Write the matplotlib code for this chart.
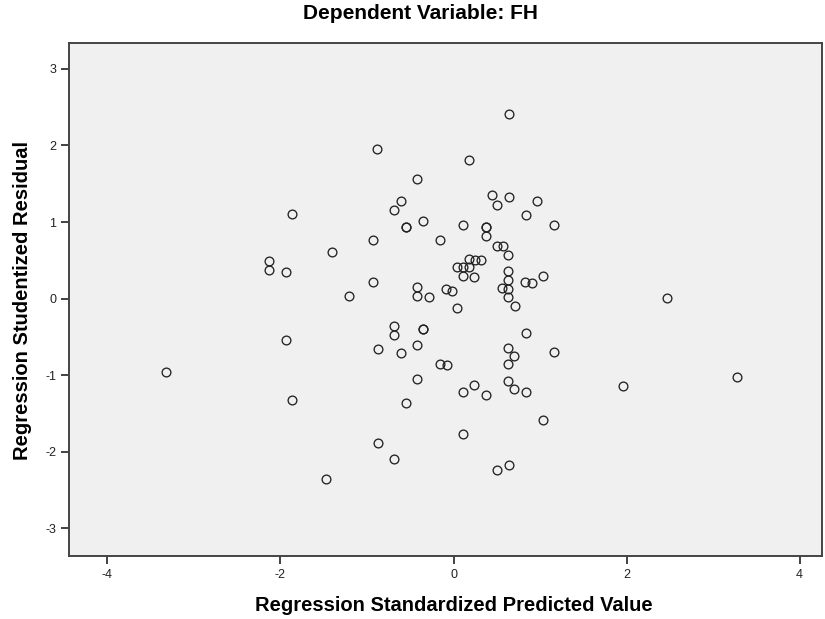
import numpy as np
import matplotlib.pyplot as plt

plt.rcParams['font.family'] = ['Liberation Sans', 'DejaVu Sans']

# standardized predicted values (x) and studentized residuals (y)
pred = [-3.324, -2.129, -2.129, -1.936, -1.871, -1.936, -1.871, -1.474, -1.408, -1.208,
        -0.934, -0.934, -0.881, -0.873, -0.873, -0.684, -0.610, -0.553, -0.548, -0.418,
        -0.356, -0.418, -0.418, -0.283, -0.156, -0.090, -0.021, 0.044, 0.113, 0.183,
        0.179, 0.245, 0.314, 0.106, 0.240, 0.113, 0.176, 0.044, 0.376, 0.371,
        0.376, 0.442, 0.506, 0.642, 0.642, 0.969, 0.835, 1.162, 0.506, 0.576,
        0.634, 0.634, 0.634, 0.561, 0.634, 0.634, 0.708, 0.827, 0.904, 1.031,
        2.465, -0.684, -0.684, -0.356, -0.352, -0.610, -0.418, -0.156, -0.079, -0.418,
        -0.549, 0.106, 0.240, 0.376, 0.634, 0.703, 0.634, 0.634, 0.703, 0.838,
        0.838, 1.165, 1.031, 0.106, -0.684, 0.506, 0.638, 1.956, 3.281]
resid = [-0.959, 0.491, 0.374, 0.344, 1.109, -0.541, -1.321, -2.353, 0.605, 0.030,
         0.762, 0.213, 1.950, -0.665, -1.893, 1.157, 1.275, 0.935, 0.940, 1.558,
         1.014, 0.155, 0.038, 0.025, 0.766, 0.121, 0.099, 0.417, 0.413, 0.406,
         0.511, 0.504, 0.504, 0.295, 0.282, 0.961, 1.815, -0.119, 0.931, 0.936,
         0.818, 1.349, 1.223, 1.331, 2.415, 1.279, 1.088, 0.958, 0.687, 0.687,
         0.566, 0.357, 0.243, 0.138, 0.129, 0.017, -0.097, 0.213, 0.200, 0.295,
         0.008, -0.358, -0.476, -0.401, -0.396, -0.707, -0.606, -0.854, -0.871, -1.046,
         -1.360, -1.220, -1.125, -1.263, -0.641, -0.750, -0.858, -1.076, -1.185, -1.216,
         -0.445, -0.702, -1.586, -1.765, -2.095, -2.243, -2.178, -1.142, -1.028]

xticks = [-4, -2, 0, 2, 4]
yticks = [-3, -2, -1, 0, 1, 2, 3]

fig = plt.figure(figsize=(8.25, 6.19), dpi=100)
ax = fig.add_axes([0.0836, 0.101, 0.9128, 0.8303])
ax.set_facecolor('#f0f0f0')

ax.plot(pred, resid, 'o', markersize=6.3, markerfacecolor='none',
        markeredgecolor='#222222', markeredgewidth=0.95)

ax.set_xlim(-4.445, 4.26)
ax.set_ylim(-3.37, 3.345)
ax.set_xticks(xticks)
ax.set_yticks(yticks)
ax.set_xticklabels([str(t) for t in xticks])
ax.set_yticklabels([str(t) for t in yticks])
ax.tick_params(direction='out', length=6, width=1.2, color='#222222',
               labelsize=9, labelcolor='#222222', pad=3)

for side in ax.spines.values():
    side.set_color('#444444')
    side.set_linewidth(1.4)

fig.text(0.51, 0.978, 'Dependent Variable: FH', ha='center', va='center',
         fontsize=15, fontweight='bold')
fig.text(0.55, 0.0226, 'Regression Standardized Predicted Value', ha='center',
         va='center', fontsize=14.5, fontweight='bold')
fig.text(0.027, 0.514, 'Regression Studentized Residual', ha='center',
         va='center', rotation=90, fontsize=14.5, fontweight='bold')

fig.savefig('out.png', dpi=100)
